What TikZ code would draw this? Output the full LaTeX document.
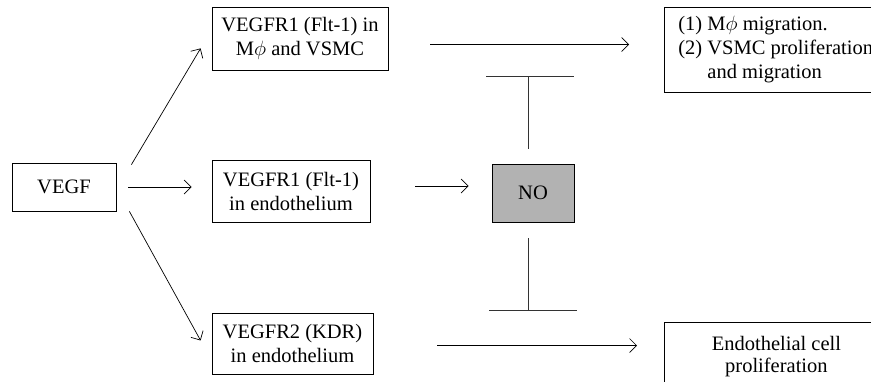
\documentclass[tikz,border=0pt]{standalone}
\usepackage{fontspec}
\setmainfont{Liberation Serif}
\usepackage{tikz}
\usetikzlibrary{arrows.meta,positioning,calc}

\begin{document}
\begin{tikzpicture}[
    x=1pt, y=-1pt,
    box/.style={draw, line width=0.8pt, inner sep=0pt, align=center,
      font=\fontsize{20.5}{24}\selectfont},
    arr/.style={-{Straight Barb[length=7pt,width=14pt]}, line width=0.7pt},
    inh/.style={line width=0.9pt, draw=black!80}
  ]
    \useasboundingbox (0,0) rectangle (871,381);
    \clip (0,0) rectangle (871,381);
    \node[box, minimum width=104pt, minimum height=48pt] (vegf) at (64,187) {VEGF};
    \node[box, minimum width=176pt, minimum height=63pt] (r1) at (300,38.5) {VEGFR1 (Flt-1) in\\M$\phi$ and VSMC};
    \node[box, minimum width=158pt, minimum height=62pt] (r2) at (291,191) {VEGFR1 (Flt-1)\\in endothelium};
    \node[box, minimum width=161pt, minimum height=61pt] (r3) at (292.5,343.5) {VEGFR2 (KDR)\\in endothelium};
    \node[box, minimum width=82pt, minimum height=58pt, fill=black!30] (no) at (533,193) {NO};
    \node[box, anchor=north west, minimum height=85pt, inner xsep=14pt, align=left] (res1) at (664,7)
      {(1) M$\phi$ migration.\\(2) VSMC proliferation\\\phantom{(2) }and migration};
    \node[box, minimum width=224pt, minimum height=74pt, anchor=north west] (res2) at (664,322)
      {\raisebox{24pt}{\begin{tabular}{@{}c@{}}Endothelial cell\\[-2pt]proliferation\end{tabular}}};
    % VEGF to the receptors
    \draw[arr] ([shift={(15,2)}]vegf.north east) -- ([shift={(-11,-22)}]r1.south west);
    \draw[arr, shorten <=12pt, shorten >=20pt] (vegf.east) -- (vegf.east -| r2.west);
    \draw[arr] ([shift={(13,0)}]vegf.south east) -- ([shift={(-11,-3)}]r3.west);
    % receptors to effects
    \draw[arr, shorten <=42pt, shorten >=35pt] ([yshift=-6pt]r1.east) -- ([yshift=-6pt]r1.east -| res1.west);
    \draw[arr, shorten <=45pt, shorten >=23pt] ([yshift=5pt]r2.east) -- ([yshift=5pt]r2.east -| no.west);
    \draw[arr, shorten <=64pt, shorten >=27pt] ([yshift=-2pt]r3.east) -- ([yshift=-2pt]r3.east -| res2.west);
    % NO blocks
    \coordinate (up) at ([shift={(-5,-87)}]no.north);
    \coordinate (dn) at ([shift={(-5,88)}]no.south);
    \draw[inh] ([yshift=15pt]no.north -| up) -- (up);
    \draw[inh] ([xshift=-42pt]up) -- ([xshift=46pt]up);
    \draw[inh] ([yshift=-16pt]no.south -| dn) -- (dn);
    \draw[inh] ([xshift=-39pt]dn) -- ([xshift=49pt]dn);
\end{tikzpicture}
\end{document}
